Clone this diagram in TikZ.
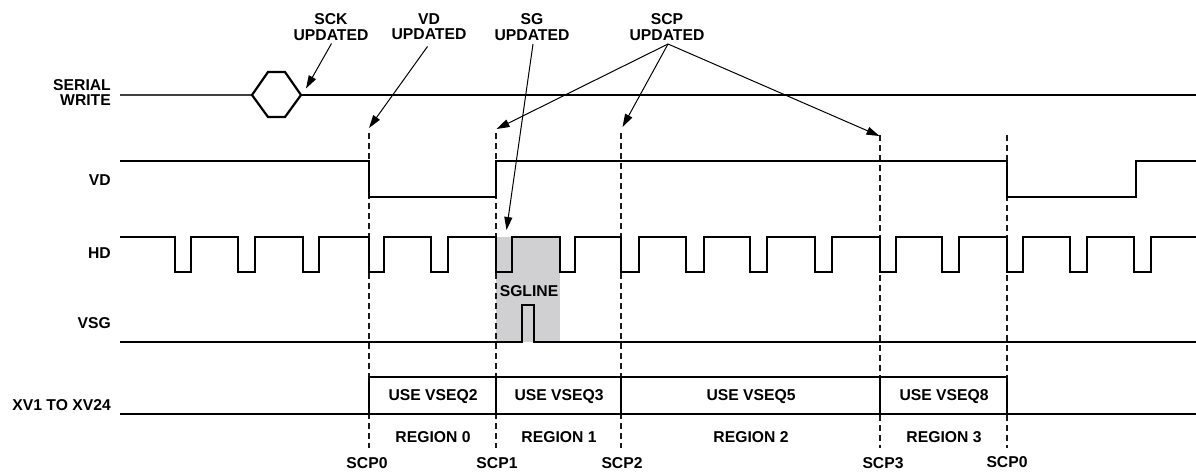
\documentclass[tikz,border=0pt]{standalone}
\usepackage{fontspec}
\setmainfont{Liberation Sans}
\usetikzlibrary{arrows.meta}
\begin{document}
\begin{tikzpicture}[x=1pt,y=-1pt,
  lbl/.style={font=\fontsize{15.7}{15.7}\selectfont\bfseries, inner sep=0pt, align=center},
  rowlbl/.style={lbl, anchor=east, align=right},
  sig/.style={line width=2.2pt, line join=miter, line cap=rect},
  guide/.style={line width=1.2pt, dash pattern=on 6pt off 4pt, black!90},
  pointer/.style={line width=1pt, -{Triangle[length=13pt,width=8pt]}},
  shade/.style={fill={rgb,255:red,208;green,208;blue,210}, draw=none}]
\useasboundingbox (0,0) rectangle (1196,471);

% shaded SG line area
\fill[shade] (496,237) rectangle (560,342);

% guide lines
\foreach \x/\t in {369/133,496/133,621/133,880/135,1007/135}
  \draw[guide] (\x,\t) -- (\x,448);

% row labels
\node[rowlbl] (lsw) at (111,92.5) {SERIAL\\WRITE};
\node[rowlbl] (lvd) at (111,180.5) {VD};
\node[rowlbl] (lhd) at (111,253) {HD};
\node[rowlbl] (lvsg) at (111,323.5) {VSG};
\node[rowlbl] (lxv) at (111,405) {XV1 TO XV24};

% serial write
\draw[sig, black!75] (121,95) -- (252,95);
\draw[sig] (252,95) -- (268,72) -- (285,72) -- (301,95) -- (285,117) -- (268,117) -- cycle;
\draw[sig] (301,95) -- (1196,95);

% VD
\draw[sig] (121,161) -- (369,161) -- (369,197) -- (496,197) -- (496,161)
  -- (1007,161) -- (1007,197) -- (1136,197) -- (1136,161) -- (1196,161);

% HD
\draw[sig] (121,237)
  foreach \s/\w in {175/16,238/17,303/16,369/15,431/17,496/16,560/15,621/18,686/18,750/17,815/17,880/16,942/17,1007/16,1070/17,1134/17}
  { -- (\s,237) -- (\s,272) -- (\s+\w,272) -- (\s+\w,237) } -- (1196,237);

% VSG
\draw[sig] (121,342) -- (522,342) -- (522,305) -- (534,305) -- (534,342) -- (1196,342);
\node[lbl] (sgline) at (529,291) {SGLINE};

% XV1 to XV24
\draw[sig] (121,414) -- (1196,414);
\draw[sig] (369,414) -- (369,377) -- (1007,377) -- (1007,414);
\foreach \x in {496,621,880}
  \draw[sig] (\x,377) -- (\x,414);
\node[lbl] (q2) at (433,397) {USE VSEQ2};
\node[lbl] (q3) at (559,397) {USE VSEQ3};
\node[lbl] (q5) at (751,397) {USE VSEQ5};
\node[lbl] (q8) at (944,397) {USE VSEQ8};

% regions
\node[lbl] (r0) at (433,437) {REGION 0};
\node[lbl] (r1) at (559,437) {REGION 1};
\node[lbl] (r2) at (751,437) {REGION 2};
\node[lbl] (r3) at (944,437) {REGION 3};

% SCP labels
\node[lbl] (scp0) at (367,463) {SCP0};
\node[lbl] (scp1) at (497,463) {SCP1};
\node[lbl] (scp2) at (622,463) {SCP2};
\node[lbl] (scp3) at (883,463) {SCP3};
\node[lbl] (scp0b) at (1007,462) {SCP0};

% top labels
\node[lbl] (sck) at (331,26.8) {SCK\\UPDATED};
\node[lbl] (vdu) at (429,26.8) {VD\\UPDATED};
\node[lbl] (sgu) at (532,26.8) {SG\\UPDATED};
\node[lbl] (scpu) at (667,26.8) {SCP\\UPDATED};

% arrow coordinates
\coordinate (sckS) at (331.5,43.5);
\coordinate (sckT) at (306,88.5);
\coordinate (vdS) at (427.5,46.5);
\coordinate (vdT) at (369,128);
\coordinate (sgS) at (533,44);
\coordinate (sgT) at (506.5,230);
\coordinate (scpS) at (668,44);
\coordinate (scpT1) at (496.5,129);
\coordinate (scpT2) at (622.5,127);
\coordinate (scpT3) at (879.5,136);

\draw[pointer] (sckS) -- (sckT);
\draw[pointer] (vdS) -- (vdT);
\draw[pointer] (sgS) -- (sgT);
\draw[pointer] (scpS) -- (scpT1);
\draw[pointer] (scpS) -- (scpT2);
\draw[pointer] (scpS) -- (scpT3);
\end{tikzpicture}
\end{document}
